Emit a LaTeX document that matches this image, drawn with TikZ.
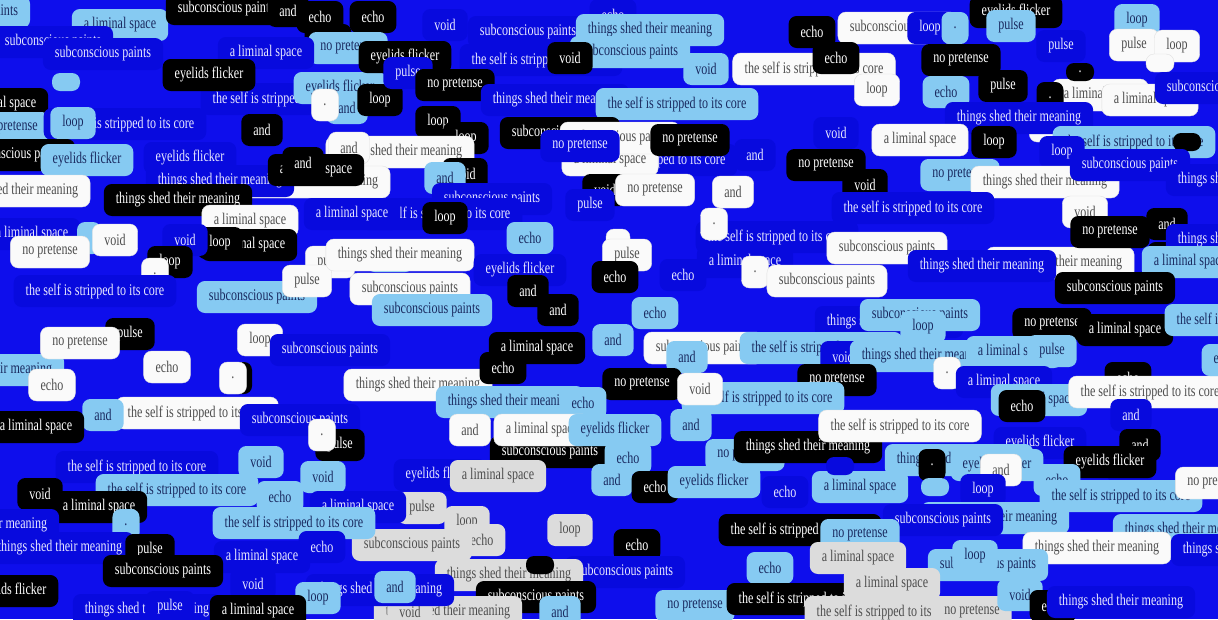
\documentclass[tikz,border=0pt]{standalone}
\usepackage{fontspec}
\setmainfont{Liberation Serif}[FakeStretch=0.74]
\definecolor{bgblue}{RGB}{14,14,236}
\definecolor{boxblue}{RGB}{8,10,222}
\definecolor{lightblue}{RGB}{134,202,242}
\definecolor{navy}{RGB}{26,42,96}
\definecolor{paper}{RGB}{250,250,250}
\definecolor{lgray}{RGB}{220,220,220}
\definecolor{inkgray}{RGB}{78,78,78}
\definecolor{lavender}{RGB}{232,232,255}

\begin{document}
\begin{tikzpicture}
[ x=1pt, y=-1pt
, box/.style={rectangle, rounded corners=8pt, minimum height=32pt, inner xsep=12pt, inner ysep=3pt, font=\fontsize{16.3}{17}\selectfont}
, bl/.style={box, fill=boxblue, text=lavender}
, lb/.style={box, fill=lightblue, text=navy}
, bk/.style={box, fill=black, text=white!94}
, wh/.style={box, fill=paper, draw=black!12, text=inkgray}
, gr/.style={box, fill=lgray, text=inkgray}
, blob/.style={rounded corners=8pt, minimum width=28pt, minimum height=18pt, inner sep=0pt}
, bkb/.style={bk, blob}
, lbb/.style={lb, blob}
, whb/.style={wh, blob}
, blb/.style={bl, blob}
]
\useasboundingbox (0,0) rectangle (1218,619);
\clip (0,0) rectangle (1218,619);
\fill[bgblue] (0,0) rectangle (1218,619);

% back layer
\foreach \px/\py/\s/\t [count=\i] in {
  -30/12/lb/subconscious paints, 120/25/lb/a liminal space, 53/42/bl/subconscious paints,
  226/9/bk/subconscious paints, 288/11/bk/and, 320/17/bk/echo, 373/17/bk/echo, 328/40/bk/echo,
  348/48/lb/no pretense, 266/53/bl/a liminal space, 103/54/bl/subconscious paints,
  282/99/bl/the self is stripped to its core, 340/88/lb/eyelids flicker, 347/108/lb/and,
  325/105/wh/., 380/100/bk/loop,
  209/75/bk/eyelids flicker, 66/82/lbb/{},
  445/25/bl/void, 528/32/bl/subconscious paints, 613/15/bl/echo, 650/30/lb/things shed their meaning,
  405/57/bk/eyelids flicker, 541/60/bl/the self is stripped to its core, 408/73/bl/pulse,
  455/85/bk/no pretense, 630/52/lb/subconscious paints, 570/58/bk/void,
  555/100/bl/things shed their meaning, 438/122/bk/loop, 466/138/bk/loop,
  706/69/lb/void, 814/69/wh/the self is stripped to its core, 677/104/lb/the self is stripped to its core,
  560/133/bk/subconscious paints, 400/152/wh/things shed their meaning, 656/160/bl/the self is stripped to its core,
  610/160/wh/a liminal space, 620/138/wh/subconscious paints, 580/146/bl/no pretense,
  690/140/bk/no pretense, 755/155/bl/and, 465/174/bk/void, 445/178/lb/and,
  605/190/bk/void, 655/190/wh/no pretense, 733/192/wh/and, 492/199/bl/subconscious paints
} \node[\s, name=a\i] at (\px,\py) {\t};

% top right
\foreach \px/\py/\s/\t [count=\i] in {
  812/32/bk/echo, 898/28/wh/subconscious paints, 836/58/bk/echo, 930/28/bl/loop, 955/28/lb/.,
  1016/12/bk/eyelids flicker, 1011/26/lb/pulse, 1061/46/bl/pulse, 961/60/bk/no pretense,
  877/90/wh/loop, 946/92/lb/echo, 1003/86/bk/pulse, 1137/20/lb/loop, 1134/45/wh/pulse,
  1177/46/wh/loop, 1160/63/whb/{}, 1100/95/wh/a liminal space, 1150/100/wh/a liminal space,
  1080/72/bkb/., 1050/98/bk/., 1215/88/bl/subconscious paints, 1054/126/wh/pulse,
  1019/118/bl/things shed their meaning, 1134/142/lb/the self is stripped to its core,
  1187/142/bkb/{}, 1062/152/bl/loop, 836/133/bl/void, 920/140/wh/a liminal space,
  994/142/bk/loop, 826/165/bk/no pretense, 865/185/bk/void, 960/175/lb/no pretense,
  1045/182/wh/things shed their meaning, 1130/165/bl/subconscious paints,
  1240/180/bl/things shed their meaning
} \node[\s, name=b\i] at (\px,\py) {\t};

% left middle
\foreach \px/\py/\s/\t [count=\i] in {
  0/104/bk/a liminal space, 10/128/lb/no pretense, 125/124/bl/the self is stripped to its core,
  73/123/lb/loop, 15/155/bk/subconscious paints, 87/160/lb/eyelids flicker,
  316/182/wh/things shed their meaning, 190/158/bl/eyelids flicker, 220/181/bl/things shed their meaning,
  262/130/bk/and, 349/148/wh/and, 316/170/bk/a liminal space, 303/163/bk/and,
  16/191/wh/things shed their meaning, 178/200/bk/things shed their meaning,
  250/221/wh/a liminal space, 441/214/bl/the self is stripped to its core, 352/214/bl/a liminal space,
  32/234/bl/a liminal space, 89/238/lb/{}, 115/240/wh/void, 50/252/wh/no pretense,
  249/245/bk/a liminal space, 220/243/bk/loop, 185/240/bl/void, 170/262/bk/loop, 155/274/wh/.,
  95/291/bl/the self is stripped to its core, 257/297/lb/subconscious paints,
  330/262/wh/pulse, 307/281/wh/pulse, 390/256/lb/echo, 410/289/wh/subconscious paints,
  432/310/lb/subconscious paints, 130/334/bk/pulse, 260/340/wh/loop, 330/350/bl/subconscious paints,
  -10/370/lb/things shed their meaning, 80/343/wh/no pretense, 167/367/wh/echo, 52/385/wh/echo,
  240/378/bk/{}, 233/378/wh/., 418/385/wh/things shed their meaning,
  197/413/wh/the self is stripped to its core, 103/415/lb/and, 36/427/bk/a liminal space,
  300/420/bl/subconscious paints, 340/445/bk/pulse, 322/435/wh/.
} \node[\s, name=c\i] at (\px,\py) {\t};

% centre
\foreach \px/\py/\s/\t [count=\i] in {
  445/218/bk/loop, 530/238/lb/echo, 400/255/wh/things shed their meaning, 590/205/bl/pulse,
  520/270/bl/eyelids flicker, 618/245/wh/{}, 627/255/wh/pulse, 615/277/bk/echo,
  777/237/bl/the self is stripped to its core, 745/262/bl/a liminal space, 683/275/bl/echo,
  714/224/wh/., 755/272/wh/., 887/248/wh/subconscious paints, 827/281/wh/subconscious paints,
  913/208/bl/the self is stripped to its core, 1060/263/wh/things shed their meaning,
  982/266/bl/things shed their meaning, 1085/212/wh/void, 1110/232/bk/no pretense,
  1229/258/bk/the self is stripped to its core, 1167/224/bk/and, 1240/240/bl/things shed their meaning,
  1190/262/lb/a liminal space, 1115/288/bk/subconscious paints,
  889/322/bl/things shed their meaning, 920/315/lb/subconscious paints, 923/327/lb/loop,
  1052/324/bk/no pretense, 1125/330/bk/a liminal space, 1246/320/lb/the self is stripped to its core,
  704/348/wh/subconscious paints, 821/348/lb/the self is stripped to its core, 843/357/bl/void,
  924/356/lb/things shed their meaning, 1014/352/lb/a liminal space, 1052/351/lb/pulse,
  947/373/wh/., 1004/382/bl/a liminal space, 1128/378/bk/echo, 1039/400/lb/a liminal space,
  1022/406/bk/echo, 837/380/bk/no pretense, 763/398/lb/the self is stripped to its core,
  1150/392/wh/the self is stripped to its core, 1248/360/lb/eyelids flicker,
  528/291/bk/and, 558/310/bk/and, 537/348/bk/a liminal space, 503/368/bk/echo,
  655/313/lb/echo, 613/340/lb/and, 687/357/lb/and, 642/384/bk/no pretense, 700/389/wh/void,
  510/402/lb/things shed their meaning, 583/403/lb/echo
} \node[\s, name=d\i] at (\px,\py) {\t};

% lower half
\foreach \px/\py/\s/\t [count=\i] in {
  440/475/bl/eyelids flicker, 550/452/bk/subconscious paints, 498/476/gr/a liminal space,
  470/430/wh/and, 542/430/wh/a liminal space, 615/430/lb/eyelids flicker, 691/425/lb/and,
  745/455/lb/no pretense, 628/458/lb/echo, 612/480/lb/and, 655/487/bk/echo, 714/482/lb/eyelids flicker,
  808/447/bk/things shed their meaning, 900/426/wh/the self is stripped to its core,
  785/492/bl/echo, 860/487/lb/a liminal space, 1040/443/bl/eyelids flicker,
  800/530/bk/the self is stripped to its core, 770/568/lb/echo, 637/545/bk/echo,
  625/572/bl/subconscious paints, 422/508/gr/pulse, 467/522/gr/loop, 482/540/gr/echo,
  412/545/gr/subconscious paints, 509/575/gr/things shed their meaning, 570/530/gr/loop,
  540/565/bkb/{}, 536/597/bk/subconscious paints, 448/612/gr/things shed their meaning,
  410/612/gr/void, 560/612/lb/and, 695/606/lb/no pretense, 808/599/bk/the self is stripped to its core,
  1131/415/bl/and, 1140/445/bk/and, 1130/467/bl/void, 1110/462/bk/eyelids flicker,
  959/460/lb/things shed their meaning, 997/465/lb/eyelids flicker, 1001/470/wh/and,
  1057/480/lb/echo, 1121/496/lb/the self is stripped to its core, 1215/483/wh/no pretense,
  983/490/bl/loop, 840/466/blb/{}, 932/465/bk/., 935/487/lbb/{},
  995/518/lb/things shed their meaning, 943/520/bl/subconscious paints,
  1187/530/lb/things shed their meaning, 1097/548/wh/things shed their meaning,
  1245/550/bl/things shed their meaning, 860/535/lb/no pretense,
  988/565/lb/subconscious paints, 975/556/lb/loop, 858/558/gr/a liminal space, 892/584/gr/a liminal space,
  886/612/gr/the self is stripped to its core, 972/612/gr/no pretense, 1020/595/lb/void,
  1053/606/bk/echo, 1121/602/bl/things shed their meaning
} \node[\s, name=e\i] at (\px,\py) {\t};

% lower left
\foreach \px/\py/\s/\t [count=\i] in {
  261/462/lb/void, 323/477/lb/void, 137/467/bl/the self is stripped to its core,
  177/490/lb/the self is stripped to its core, 280/497/lb/echo, 40/494/bk/void,
  99/507/bk/a liminal space, 358/507/bl/a liminal space, 294/523/lb/the self is stripped to its core,
  126/525/lb/., -15/525/bl/things shed their meaning, 60/548/bl/things shed their meaning,
  322/547/bl/echo, 262/557/bl/a liminal space, 150/550/bk/pulse, 163/571/bk/subconscious paints,
  253/584/bl/void, 380/590/bl/things shed their meaning, 318/598/lb/loop, 395/587/lb/and,
  12/591/bk/eyelids flicker, 147/610/bl/things shed their meaning, 170/607/bl/pulse,
  258/611/bk/a liminal space
} \node[\s, name=f\i] at (\px,\py) {\t};
\end{tikzpicture}
\end{document}
